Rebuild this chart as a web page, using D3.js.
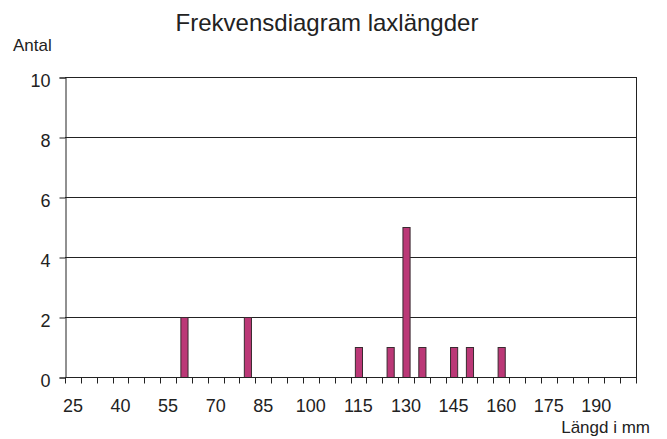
<!DOCTYPE html>
<html>
<head>
<meta charset="utf-8">
<script src="https://cdn.jsdelivr.net/npm/d3@7"></script>
<style>
body { margin: 0; background: #fff; }
text { font-family: "Liberation Sans", Arial, sans-serif; fill: #222; }
</style>
</head>
<body>
<svg id="chart" width="667" height="439"></svg>
<script>
// langder 25..200 i steg om 5
var lengths = d3.range(25, 201, 5);
var counts = [0,0,0,0,0,0,0,2,0,0,0,2,0,0,0,0,0,0,1,0,1,5,1,0,1,1,0,1,0,0,0,0,0,0,0,0];
var yTicks = [0, 2, 4, 6, 8, 10];

var svg = d3.select("#chart");
var margin = {top: 77, right: 31, bottom: 62, left: 65};
var width = 667, height = 439;

var x = d3.scaleBand()
    .domain(lengths)
    .range([margin.left, width - margin.right])
    .paddingInner(0.55)
    .paddingOuter(0.275);

var y = d3.scaleLinear().domain([0, 10]).range([height - margin.bottom, margin.top]);

// gridlines
svg.append("g")
    .selectAll("line")
    .data(yTicks.filter(d => d > 0))
    .enter().append("line")
    .attr("x1", margin.left).attr("x2", width - margin.right)
    .attr("y1", d => y(d) + 0.5).attr("y2", d => y(d) + 0.5)
    .style("stroke", "#222").style("stroke-width", 1);

// right border
svg.append("line")
    .attr("x1", width - margin.right + 0.5).attr("x2", width - margin.right + 0.5)
    .attr("y1", y(10)).attr("y2", y(0))
    .style("stroke", "#222");

// bars
svg.append("g")
    .selectAll("rect")
    .data(lengths.map((l, i) => ({l: l, c: counts[i]})).filter(d => d.c > 0))
    .enter().append("rect")
    .attr("x", d => x(d.l) + 0.5)
    .attr("y", d => y(d.c) + 0.5)
    .attr("width", x.bandwidth())
    .attr("height", d => y(0) - y(d.c))
    .style("fill", "#bb3877")
    .style("stroke", "#3a2a30")
    .style("stroke-width", 1);

// y axis
var yAxis = svg.append("g")
    .attr("transform", `translate(${margin.left + 0.5},0.5)`)
    .call(d3.axisLeft(y).tickValues(yTicks).tickSize(6).tickPadding(9));
yAxis.select(".domain").style("stroke", "#222");
yAxis.selectAll(".tick line").style("stroke", "#222");
yAxis.selectAll("text")
    .attr("dy", "0.5em")
    .style("font-size", "18px")
    .style("font-family", "Liberation Sans, Arial, sans-serif")
    .style("fill", "#222");

// x axis: tick marks at category boundaries
var step = x.step();
var xAxisG = svg.append("g").attr("transform", `translate(0,${y(0) + 0.5})`);
xAxisG.append("line")
    .attr("x1", margin.left).attr("x2", width - margin.right + 1)
    .style("stroke", "#222");
xAxisG.selectAll(".tk")
    .data(d3.range(lengths.length + 1))
    .enter().append("line")
    .attr("class", "tk")
    .attr("x1", i => Math.round(margin.left + i * step) + 0.5)
    .attr("x2", i => Math.round(margin.left + i * step) + 0.5)
    .attr("y1", 0).attr("y2", 6)
    .style("stroke", "#222");
xAxisG.selectAll(".lbl")
    .data(lengths.filter((d, i) => i % 3 === 0))
    .enter().append("text")
    .attr("class", "lbl")
    .attr("x", d => x(d) + x.bandwidth() / 2)
    .attr("y", 34)
    .attr("text-anchor", "middle")
    .style("font-size", "18px")
    .text(d => d);

// titles
svg.append("text")
    .attr("x", 327).attr("y", 31)
    .attr("text-anchor", "middle")
    .style("font-size", "24px")
    .text("Frekvensdiagram laxlängder");

svg.append("text")
    .attr("x", 13).attr("y", 51)
    .style("font-size", "17px")
    .text("Antal");

svg.append("text")
    .attr("x", 650).attr("y", 433)
    .attr("text-anchor", "end")
    .style("font-size", "17px")
    .text("Längd i mm");
</script>
</body>
</html>
